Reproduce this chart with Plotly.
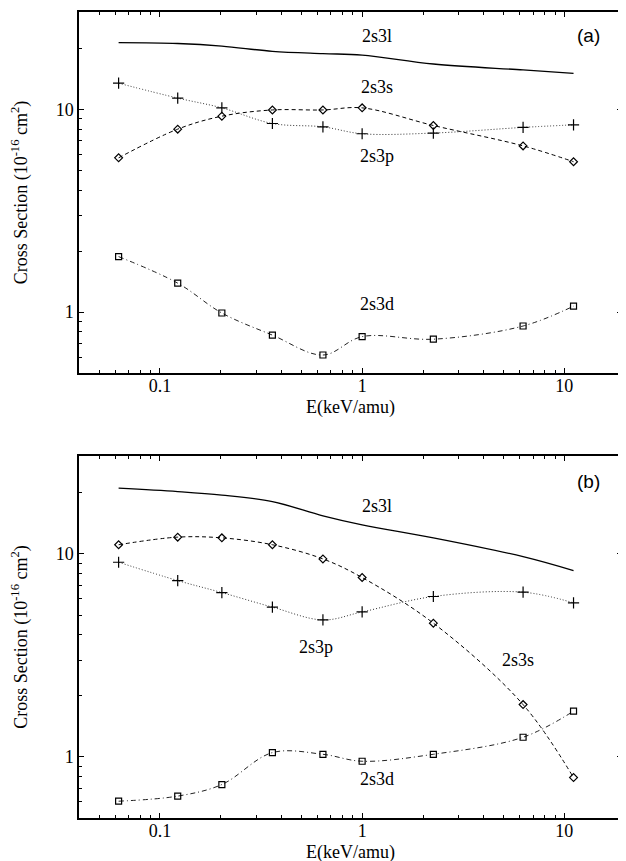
import numpy as np
import plotly.graph_objects as go

# Energies (keV/amu)
energy = [0.0625, 0.1225, 0.2025, 0.36, 0.64, 1.0, 2.25, 6.25, 11.1]

# Panel (a) cross sections (1e-16 cm^2)
a_2s3l = [21.4, 21.2, 20.6, 19.4, 18.9, 18.6, 16.8, 15.7, 15.1]
a_2s3s = [5.78, 8.01, 9.28, 9.96, 9.96, 10.2, 8.35, 6.62, 5.53]
a_2s3p = [13.5, 11.4, 10.2, 8.54, 8.22, 7.60, 7.66, 8.17, 8.41]
a_2s3d = [1.88, 1.39, 0.99, 0.77, 0.614, 0.757, 0.735, 0.854, 1.07]

# Panel (b) cross sections (1e-16 cm^2)
b_2s3l = [21.1, 20.3, 19.5, 18.1, 15.4, 13.9, 12.0, 9.7, 8.28]
b_2s3s = [11.1, 12.1, 12.0, 11.1, 9.45, 7.65, 4.56, 1.81, 0.791]
b_2s3p = [9.10, 7.39, 6.45, 5.47, 4.73, 5.18, 6.17, 6.48, 5.74]
b_2s3d = [0.605, 0.641, 0.731, 1.05, 1.03, 0.952, 1.03, 1.25, 1.68]

x_major = [0.1, 1, 10]
x_major_text = ["0.1", "1", "10"]
x_minor = [0.05, 0.06, 0.07, 0.08, 0.09, 0.2, 0.3, 0.4, 0.5, 0.6, 0.7, 0.8, 0.9,
           2, 3, 4, 5, 6, 7, 8, 9]
y_major = [1, 10]
y_major_text = ["1", "10"]
y_minor = [0.6, 0.7, 0.8, 0.9, 2, 3, 4, 5, 6, 7, 8, 9, 20, 30]

SERIF = "Liberation Serif, Times New Roman, serif"
SANS = "Liberation Sans, Arial, sans-serif"

fig = go.Figure()


def add_panel(xa, ya, l, s, p, d):
    fig.add_trace(go.Scatter(x=energy, y=l, mode="lines", xaxis=xa, yaxis=ya,
                             line=dict(color="black", width=1.3, shape="spline", smoothing=1),
                             showlegend=False, name="2s3l"))
    fig.add_trace(go.Scatter(x=energy, y=s, mode="lines+markers", xaxis=xa, yaxis=ya,
                             line=dict(color="black", width=1, dash="4px,3px", shape="spline", smoothing=1),
                             marker=dict(symbol="diamond-open", size=6, color="black", line=dict(width=1.2)),
                             showlegend=False, name="2s3s"))
    fig.add_trace(go.Scatter(x=energy, y=p, mode="lines+markers", xaxis=xa, yaxis=ya,
                             line=dict(color="#333", width=1, dash="1px,2px", shape="spline", smoothing=1),
                             marker=dict(symbol="cross-thin-open", size=8, color="black", line=dict(width=1.2, color="black")),
                             showlegend=False, name="2s3p"))
    fig.add_trace(go.Scatter(x=energy, y=d, mode="lines+markers", xaxis=xa, yaxis=ya,
                             line=dict(color="#222", width=1, dash="5px,3px,1px,3px", shape="spline", smoothing=1),
                             marker=dict(symbol="square-open", size=6, color="black", line=dict(width=1.2)),
                             showlegend=False, name="2s3d"))


add_panel("x", "y", a_2s3l, a_2s3s, a_2s3p, a_2s3d)
add_panel("x2", "y2", b_2s3l, b_2s3s, b_2s3p, b_2s3d)

xcommon = dict(type="log", range=[-1.40, 1.285], showgrid=False, zeroline=False,
               showline=True, linecolor="black", linewidth=1.5, mirror="allticks",
               ticks="inside", ticklen=5, tickwidth=1, tickcolor="black",
               tickvals=x_major, ticktext=x_major_text, ticklabelstandoff=-4,
               minor=dict(tickvals=x_minor, ticks="inside", ticklen=3, tickwidth=1, tickcolor="black"),
               tickfont=dict(family=SERIF, size=18, color="black"))
ycommon = dict(type="log", range=[np.log10(0.5), 1.482], showgrid=False, zeroline=False,
               showline=True, linecolor="black", linewidth=1.5, mirror="allticks",
               ticks="inside", ticklen=5, tickwidth=1, tickcolor="black",
               tickvals=y_major, ticktext=y_major_text,
               minor=dict(tickvals=y_minor, ticks="inside", ticklen=3, tickwidth=1, tickcolor="black"),
               tickfont=dict(family=SERIF, size=18, color="black"),
               title=dict(text="Cross Section (10<sup>-16</sup> cm<sup>2</sup>)",
                          font=dict(family=SERIF, size=18, color="black"), standoff=32))

fig.update_layout(
    width=618, height=853,
    margin=dict(l=71, r=4, t=2, b=43),
    paper_bgcolor="white", plot_bgcolor="white",
    xaxis=dict(xcommon, domain=[0, 1], anchor="y"),
    yaxis=dict(ycommon, domain=[0.552, 1.0], anchor="x"),
    xaxis2=dict(xcommon, domain=[0, 1], anchor="y2"),
    yaxis2=dict(ycommon, domain=[0.0, 0.449], anchor="x2"),
)

lab = dict(family=SERIF, size=18, color="black")
ann = [
    ("x", "y", 1.19, 23.1, "2s3l", lab),
    ("x", "y", 1.19, 13.0, "2s3s", lab),
    ("x", "y", 1.19, 5.91, "2s3p", lab),
    ("x", "y", 1.19, 1.10, "2s3d", lab),
    ("x", "y", 13.2, 23.1, "(a)", dict(family=SANS, size=19, color="black")),
    ("x2", "y2", 1.18, 17.3, "2s3l", lab),
    ("x2", "y2", 0.594, 3.48, "2s3p", lab),
    ("x2", "y2", 5.9, 2.99, "2s3s", lab),
    ("x2", "y2", 1.18, 0.774, "2s3d", lab),
    ("x2", "y2", 13.2, 22.7, "(b)", dict(family=SANS, size=19, color="black")),
]
for xr, yr, xv, yv, t, f in ann:
    fig.add_annotation(xref=xr, yref=yr, x=np.log10(xv), y=np.log10(yv), text=t,
                       showarrow=False, font=f, xanchor="center", yanchor="middle")

# x-axis titles (placed below each panel)
for yp in [0.5087, -0.0433]:
    fig.add_annotation(xref="x domain", yref="paper", x=0.5, y=yp, text="E(keV/amu)",
                       showarrow=False, font=dict(family=SERIF, size=18, color="black"),
                       xanchor="center", yanchor="middle")

fig.write_html("out.html")
